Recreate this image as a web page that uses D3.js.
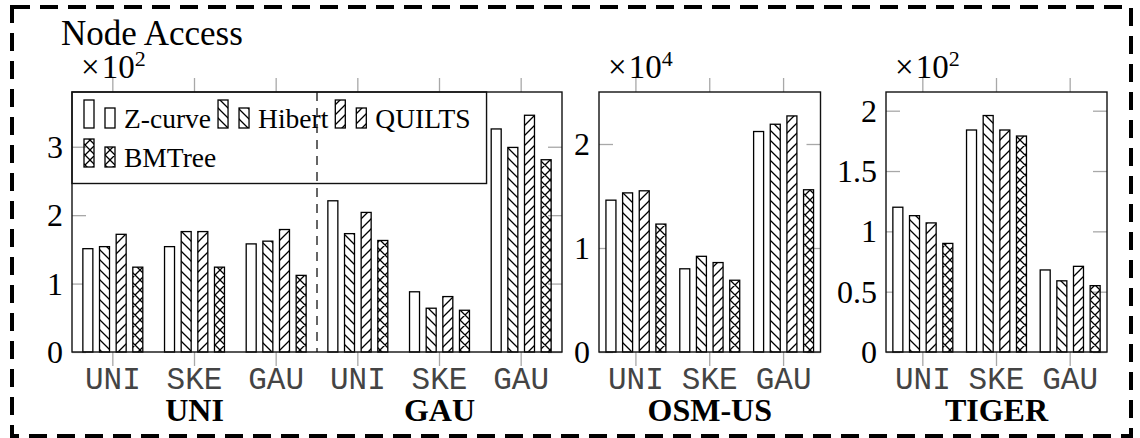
<!DOCTYPE html>
<html>
<head>
<meta charset="utf-8">
<script src="https://cdn.jsdelivr.net/npm/d3@7"></script>
<style>
  body { margin: 0; background: #fff; }
  svg text { font-family: "Liberation Serif", "DejaVu Serif", serif; }
  svg text.mono { font-family: "Liberation Mono", "DejaVu Sans Mono", monospace; }
</style>
</head>
<body>
<div id="chart"></div>
<script>
// series + categories
const series = ["Z-curve", "Hibert", "QUILTS", "BMTree"];
const distCats = ["UNI", "SKE", "GAU"];
const synGroups = ["UNI", "GAU"];

// synthetic data (x10^2), order UNI/UNI, UNI/SKE, UNI/GAU, GAU/UNI, GAU/SKE, GAU/GAU
const zcurveSyn = [1.51, 1.54, 1.58, 2.21, 0.88, 3.26];
const hibertSyn = [1.54, 1.76, 1.62, 1.73, 0.64, 2.99];
const quiltsSyn = [1.72, 1.76, 1.79, 2.04, 0.81, 3.46];
const bmtreeSyn = [1.24, 1.24, 1.12, 1.63, 0.61, 2.81];

// OSM-US (x10^4)
const zcurveOsm = [1.46, 0.80, 2.12];
const hibertOsm = [1.53, 0.92, 2.19];
const quiltsOsm = [1.55, 0.86, 2.27];
const bmtreeOsm = [1.23, 0.69, 1.56];

// TIGER (x10^2)
const zcurveTiger = [1.20, 1.84, 0.68];
const hibertTiger = [1.13, 1.96, 0.59];
const quiltsTiger = [1.07, 1.84, 0.71];
const bmtreeTiger = [0.90, 1.79, 0.55];

const ticksSyn = [0, 1, 2, 3];
const ticksOsm = [0, 1, 2];
const ticksTiger = [0, 0.5, 1, 1.5, 2];

var width = 1140, height = 438;
var plotTop = 92, plotBottom = 352;
var tickGray = "#a8a8a8";

const svg = d3.select("#chart").append("svg")
    .attr("width", width)
    .attr("height", height);

// hatch patterns
var defs = svg.append("defs");
function hatch(id, d) {
    defs.append("pattern")
        .attr("id", id)
        .attr("patternUnits", "userSpaceOnUse")
        .attr("width", 10)
        .attr("height", 10)
        .append("path")
        .attr("d", d)
        .attr("stroke", "#000")
        .attr("stroke-width", 1.3)
        .attr("fill", "none");
}
const nw = "M0,0L10,10M-1,9L1,11M9,-1L11,1";
const ne = "M0,10L10,0M-1,1L1,-1M9,11L11,9";
hatch("nwlines", nw);
hatch("nelines", ne);
hatch("xhatch", nw + ne);

const fills = ["#fff", "url(#nwlines)", "url(#nelines)", "url(#xhatch)"];

// outer dashed frame
svg.append("rect")
    .attr("x", 12).attr("y", 7)
    .attr("width", 1119).attr("height", 429)
    .attr("fill", "none")
    .attr("stroke", "#000")
    .attr("stroke-width", 4)
    .attr("stroke-dasharray", "18 10");

svg.append("text")
    .attr("x", 61).attr("y", 45)
    .attr("font-size", "35px")
    .text("Node Access");

const synKeys = synGroups.flatMap(g => distCats.map(c => g + "/" + c));

const panels = [
    { left: 72, right: 562, keys: synKeys, values: [zcurveSyn, hibertSyn, quiltsSyn, bmtreeSyn],
      ymax: 3.8, yticks: ticksSyn, exp: "2", groups: [["UNI", 1], ["GAU", 4]], sep: 3 },
    { left: 599, right: 820.5, keys: distCats, values: [zcurveOsm, hibertOsm, quiltsOsm, bmtreeOsm],
      ymax: 2.5, yticks: ticksOsm, exp: "4", groups: [["OSM-US", 1]] },
    { left: 886, right: 1107, keys: distCats, values: [zcurveTiger, hibertTiger, quiltsTiger, bmtreeTiger],
      ymax: 2.155, yticks: ticksTiger, exp: "2", groups: [["TIGER", 1]] }
];

panels.forEach(function(p, pi) {
    const g = svg.append("g");

    const xscale = d3.scaleBand()
        .domain(p.keys)
        .range([p.left, p.right]);
    const inner = d3.scaleBand()
        .domain(series)
        .range([-33.3, 33.3])
        .paddingInner(0.4)
        .paddingOuter(0.2);
    const yscale = d3.scaleLinear()
        .domain([0, p.ymax])
        .range([plotBottom, plotTop]);

    // axes
    const yaxisG = g.append("g")
        .attr("transform", "translate(" + p.left + ",0)")
        .call(d3.axisLeft(yscale).tickValues(p.yticks).tickSize(-14).tickPadding(9)
            .tickFormat(d3.format("~g")));
    const yaxisR = g.append("g")
        .attr("transform", "translate(" + p.right + ",0)")
        .call(d3.axisRight(yscale).tickValues(p.yticks).tickSize(-14).tickFormat(""));
    const xaxisB = g.append("g")
        .attr("transform", "translate(0," + plotBottom + ")")
        .call(d3.axisBottom(xscale).tickSize(14).tickPadding(1)
            .tickFormat(d => d.split("/").pop()));
    const xaxisT = g.append("g")
        .attr("transform", "translate(0," + plotTop + ")")
        .call(d3.axisTop(xscale).tickSize(14).tickFormat(""));

    [yaxisG, yaxisR, xaxisB, xaxisT].forEach(a => {
        a.select(".domain").remove();
        a.selectAll(".tick line").attr("stroke", tickGray).attr("stroke-width", 1.3);
    });
    yaxisG.selectAll("text")
        .attr("font-size", "32px")
        .attr("fill", "#000")
        .attr("dy", "0.33em");
    xaxisB.selectAll("text")
        .attr("class", "mono")
        .attr("font-size", "31px")
        .attr("fill", "#444");

    // bars
    series.forEach(function(s, si) {
        g.append("g").selectAll("rect")
            .data(p.values[si])
            .enter()
            .append("rect")
            .attr("x", (d, i) => xscale(p.keys[i]) + xscale.bandwidth() / 2 + inner(s))
            .attr("y", d => yscale(d))
            .attr("width", inner.bandwidth())
            .attr("height", d => plotBottom - yscale(d))
            .attr("fill", fills[si])
            .attr("stroke", "#000")
            .attr("stroke-width", 1.3);
    });

    if (p.sep) {
        var sx = xscale(p.keys[p.sep]);
        g.append("line")
            .attr("x1", sx).attr("x2", sx)
            .attr("y1", plotTop).attr("y2", plotBottom)
            .attr("stroke", "#333")
            .attr("stroke-width", 1.5)
            .attr("stroke-dasharray", "9 7");
    }

    // frame
    g.append("rect")
        .attr("x", p.left).attr("y", plotTop)
        .attr("width", p.right - p.left).attr("height", plotBottom - plotTop)
        .attr("fill", "none")
        .attr("stroke", "#111")
        .attr("stroke-width", 1.4);

    // x10^n
    const sc = g.append("text")
        .attr("x", p.left + 9).attr("y", 78)
        .attr("font-size", "33px");
    sc.append("tspan").text("\u00d7");
    sc.append("tspan").attr("dx", 2).text("10");
    sc.append("tspan").attr("font-size", "22px").attr("dy", -12).text(p.exp);

    // group labels
    p.groups.forEach(function(gr) {
        g.append("text")
            .attr("x", xscale(p.keys[gr[1]]) + xscale.bandwidth() / 2)
            .attr("y", 421)
            .attr("text-anchor", "middle")
            .attr("font-size", "32px")
            .attr("font-weight", "bold")
            .text(gr[0]);
    });

    // legend lives in the first panel
    if (pi === 0) {
        const lg = g.append("g");
        var lx = 84, maxEnd = 0;
        const rows = [[0, 1, 2], [3]];
        const baselines = [128, 167];
        rows.forEach(function(row, ri) {
            lx = 84;
            var by = baselines[ri];
            row.forEach(function(si) {
                lg.append("rect").attr("x", lx).attr("y", by - 28)
                    .attr("width", 10).attr("height", 28)
                    .attr("fill", fills[si]).attr("stroke", "#000").attr("stroke-width", 1.3);
                lg.append("rect").attr("x", lx + 21).attr("y", by - 20)
                    .attr("width", 10).attr("height", 20)
                    .attr("fill", fills[si]).attr("stroke", "#000").attr("stroke-width", 1.3);
                const t = lg.append("text")
                    .attr("x", lx + 40).attr("y", by)
                    .attr("font-size", "27.5px")
                    .text(series[si]);
                var end = lx + 40 + t.node().getComputedTextLength();
                maxEnd = Math.max(maxEnd, end);
                lx = end + 7;
            });
        });
        lg.insert("rect", ":first-child")
            .attr("x", p.left).attr("y", plotTop)
            .attr("width", maxEnd + 16 - p.left).attr("height", 91.5)
            .attr("fill", "none")
            .attr("stroke", "#111")
            .attr("stroke-width", 1.4);
    }
});
</script>
</body>
</html>
